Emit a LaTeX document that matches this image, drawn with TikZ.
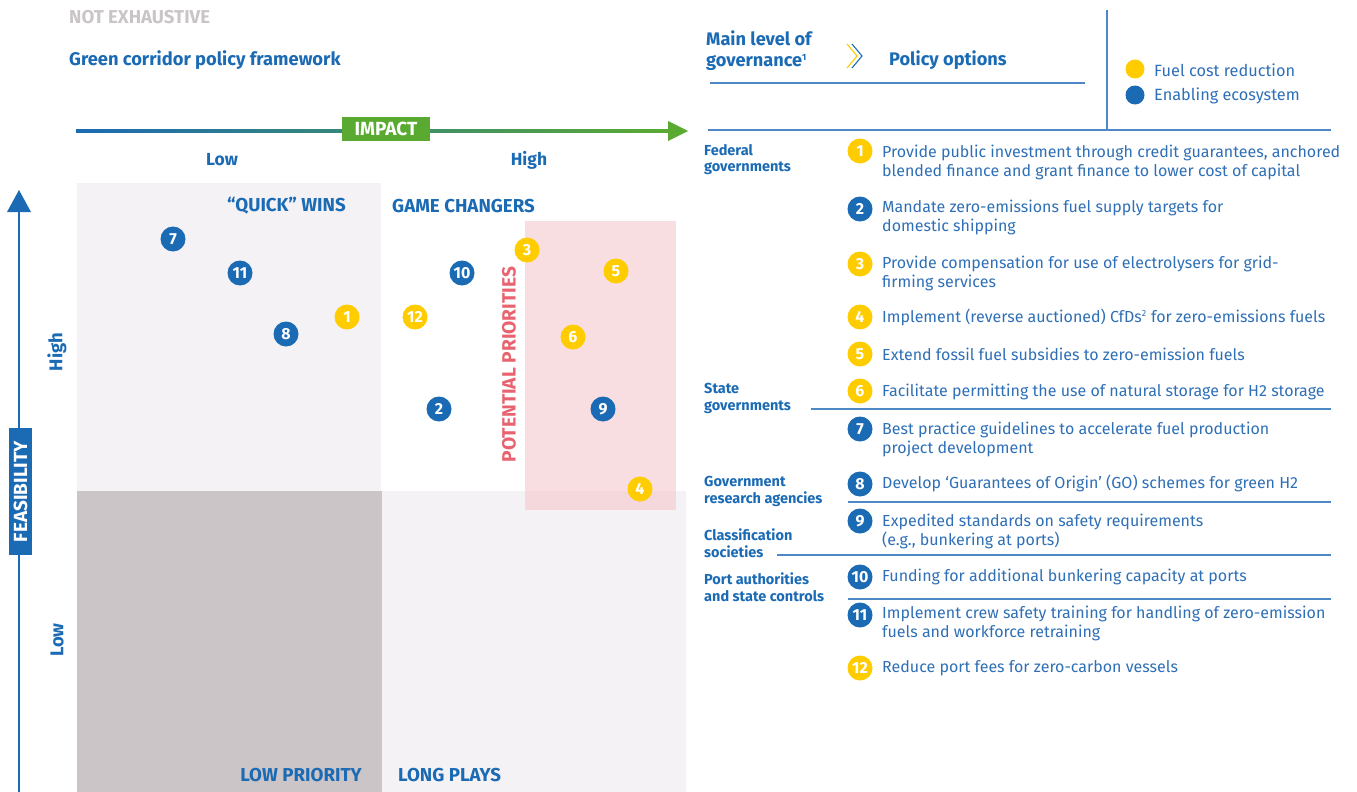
\documentclass[tikz,border=0pt]{standalone}
\usepackage{fontspec}
\setmainfont{Fira Sans}
\definecolor{cblue}{HTML}{1B6AB4}
\definecolor{ctext}{HTML}{2E6FB6}
\definecolor{cline}{HTML}{4F88C6}
\definecolor{cyellow}{HTML}{FFCC00}
\definecolor{cgreen}{HTML}{5AAA32}
\definecolor{clight}{HTML}{F4F2F5}
\definecolor{cdark}{HTML}{CBC5C8}
\definecolor{cpink}{HTML}{F4C3C9}
\definecolor{cred}{HTML}{E8636F}
\definecolor{cgray}{HTML}{C9C5C7}
\tikzset{
  mdot/.style={circle, minimum size=25pt, inner sep=0pt, text=white, font=\bfseries\fontsize{16}{16}\selectfont},
  ydot/.style={mdot, fill=cyellow},
  bdot/.style={mdot, fill=cblue},
  item/.style={anchor=west, inner sep=0pt, align=left, text=ctext, font=\fontsize{16}{19}\selectfont},
  gov/.style={anchor=west, inner sep=0pt, align=left, text=cblue, font=\bfseries\fontsize{14.5}{16.5}\selectfont},
  quad/.style={inner sep=0pt, text=cblue, font=\bfseries\fontsize{18.7}{18.7}\selectfont},
  axlab/.style={inner sep=0pt, text=cblue, font=\bfseries\fontsize{17.5}{17.5}\selectfont},
  sep/.style={draw=cline, line width=1.1pt},
}
\begin{document}
\begin{tikzpicture}[x=1pt,y=-1pt]
\useasboundingbox (0,0) rectangle (1357,792);
% quadrants
\fill[clight] (77,183) rectangle (381,491);
\fill[cdark] (77,491) rectangle (382,792);
\fill[clight] (382,491) rectangle (686,792);
\fill[cpink, opacity=0.55] (525,221) rectangle (676,510);
% header texts
\node[anchor=west, inner sep=0pt, text=cgray, font=\bfseries\fontsize{18.6}{18.6}\selectfont] (notex) at (69,17.5) {NOT EXHAUSTIVE};
\node[anchor=west, inner sep=0pt, text=cblue, font=\bfseries\fontsize{18.3}{18.3}\selectfont] (title) at (69,60.5) {Green corridor policy framework};
% impact axis
\coordinate (hstart) at (76,131);
\coordinate (hend) at (688,131);
\shade[left color=cblue, right color=cgreen] (76,129.8) rectangle (670,132.2);
\fill[cgreen] (668,121) -- (hend) -- (668,141) -- cycle;
\node[fill=cgreen, text=white, minimum width=88pt, minimum height=24pt, inner sep=0pt, font=\bfseries\fontsize{19}{19}\selectfont] (impact) at (386,129) {IMPACT};
\node[axlab] (hlow) at (222,160) {Low};
\node[axlab] (hhigh) at (529,160) {High};
% feasibility axis
\coordinate (vstart) at (19,792);
\coordinate (vend) at (19,190);
\draw[cblue, line width=2.6pt] (vstart) -- (19,210);
\fill[cblue] (7,212) -- (vend) -- (31,212) -- cycle;
\node[fill=cblue, text=white, rotate=90, minimum width=127pt, minimum height=23pt, inner sep=0pt, font=\bfseries\fontsize{19}{19}\selectfont] (feas) at (20.5,491.5) {FEASIBILITY};
\node[axlab, rotate=90, font=\bfseries\fontsize{18.5}{18.5}\selectfont] (vhigh) at (57,352) {High};
\node[axlab, rotate=90, font=\bfseries\fontsize{18.5}{18.5}\selectfont] (vlow) at (57,640) {Low};
% quadrant labels
\node[quad, anchor=east] (qw) at (346,206) {“QUICK” WINS};
\node[quad, anchor=west] (gc) at (392,206) {GAME CHANGERS};
\node[quad, anchor=east] (lp) at (362,775) {LOW PRIORITY};
\node[quad, anchor=west] (lg) at (398,775) {LONG PLAYS};
\node[inner sep=0pt, rotate=90, text=cred, font=\bfseries\fontsize{19.2}{19.2}\selectfont] (pp) at (509,364.5) {POTENTIAL PRIORITIES};
% matrix dots
\node[bdot] (m7) at (173,239) {7};
\node[bdot] (m11) at (240,273) {11};
\node[bdot] (m8) at (286,334) {8};
\node[ydot] (m1) at (347,317) {1};
\node[ydot] (m12) at (415,317) {12};
\node[bdot] (m10) at (462,273) {10};
\node[bdot] (m2) at (439,409) {2};
\node[ydot] (m3) at (527,250) {3};
\node[ydot] (m5) at (616,271) {5};
\node[ydot] (m6) at (573,337) {6};
\node[bdot] (m9) at (603,409) {9};
\node[ydot] (m4) at (640,489) {4};
% right header
\node[anchor=west, inner sep=0pt, align=left, text=cblue, font=\bfseries\fontsize{18.2}{21}\selectfont] (mlg) at (706,50.5) {Main level of\\governance\textsuperscript{\fontsize{9}{9}\selectfont 1}};
\draw[cyellow, line width=1.1pt] (847,44) -- (857,56) -- (847,68);
\draw[cblue, line width=1.1pt] (852,44) -- (862,56) -- (852,68);
\node[anchor=west, inner sep=0pt, text=cblue, font=\bfseries\fontsize{18.2}{18.2}\selectfont] (po) at (889,60.5) {Policy options};
\draw[sep] (710,83) -- (1085,83);
\draw[sep] (1107,10) -- (1107,130);
\draw[sep] (708,130) -- (1331,130);
\node[circle, fill=cyellow, minimum size=19pt, inner sep=0pt] (lgy) at (1135,69) {};
\node[circle, fill=cblue, minimum size=19pt, inner sep=0pt] (lgb) at (1135,95) {};
\node[item, font=\fontsize{16.3}{16.3}\selectfont] (lty) at (1154,70) {Fuel cost reduction};
\node[item, font=\fontsize{16.3}{16.3}\selectfont] (ltb) at (1154,96) {Enabling ecosystem};
% governance labels
\node[gov] (g1) at (704,159.5) {Federal\\governments};
\node[gov] (g2) at (704,398.5) {State\\governments};
\node[gov] (g3) at (704,491.5) {Government\\research agencies};
\node[gov] (g4) at (704,543) {Classification\\societies};
\node[gov] (g5) at (704,587) {Port authorities\\and state controls};
% separators
\draw[sep] (811,409) -- (1331,409);
\draw[sep] (848,502) -- (1331,502);
\draw[sep] (777,555) -- (1331,555);
\draw[sep] (848,599) -- (1331,599);
% policy list
\node[ydot] (p1) at (860,151) {1};
\node[item] (t1) at (882,162) {Provide public investment through credit guarantees, anchored\\blended finance and grant finance to lower cost of capital};
\node[bdot] (p2) at (860,209) {2};
\node[item] (t2) at (882,217.5) {Mandate zero-emissions fuel supply targets for\\domestic shipping};
\node[ydot] (p3) at (860,264) {3};
\node[item] (t3) at (882,273) {Provide compensation for use of electrolysers for grid-\\firming services};
\node[ydot] (p4) at (860,317) {4};
\node[item] (t4) at (882,317.5) {Implement (reverse auctioned) CfDs\textsuperscript{\fontsize{9}{9}\selectfont 2} for zero-emissions fuels};
\node[ydot] (p5) at (860,354) {5};
\node[item] (t5) at (882,354.5) {Extend fossil fuel subsidies to zero-emission fuels};
\node[ydot] (p6) at (860,391) {6};
\node[item] (t6) at (882,391.5) {Facilitate permitting the use of natural storage for H2 storage};
\node[bdot] (p7) at (860,429) {7};
\node[item] (t7) at (882,439) {Best practice guidelines to accelerate fuel production\\project development};
\node[bdot] (p8) at (860,484) {8};
\node[item] (t8) at (882,483.5) {Develop ‘Guarantees of Origin’ (GO) schemes for green H2};
\node[bdot] (p9) at (860,521) {9};
\node[item] (t9) at (882,531) {Expedited standards on safety requirements\\(e.g., bunkering at ports)};
\node[bdot] (p10) at (860,577) {10};
\node[item] (t10) at (882,576.5) {Funding for additional bunkering capacity at ports};
\node[bdot] (p11) at (860,615) {11};
\node[item] (t11) at (882,623.5) {Implement crew safety training for handling of zero-emission\\fuels and workforce retraining};
\node[ydot] (p12) at (860,668) {12};
\node[item] (t12) at (882,668.5) {Reduce port fees for zero-carbon vessels};
\end{tikzpicture}
\end{document}
